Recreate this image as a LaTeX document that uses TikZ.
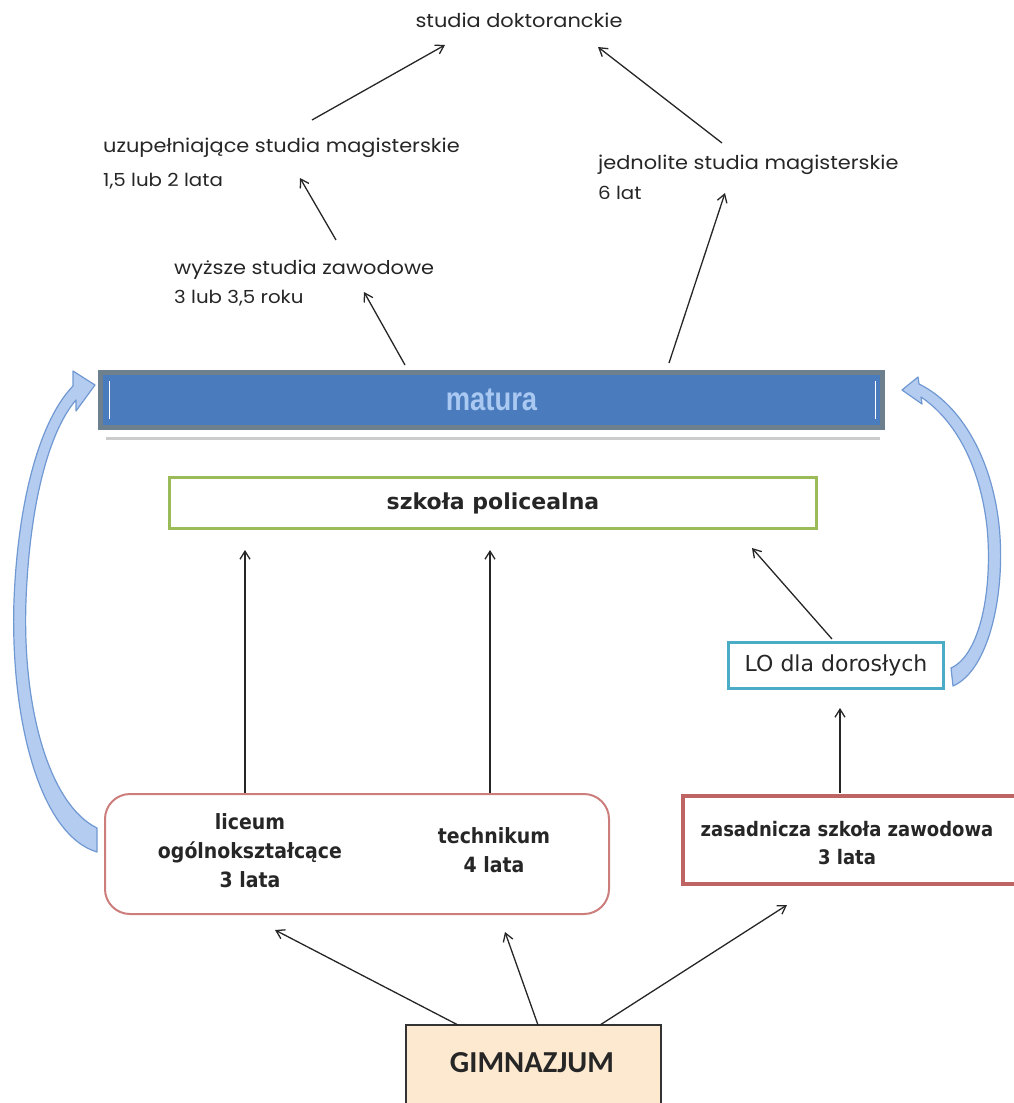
\documentclass[tikz,border=0pt]{standalone}
\usepackage{fontspec}
\setmainfont{DejaVu Sans}
\newfontfamily\comicf[FakeStretch=1.1]{Poppins}
\newfontfamily\tahb[FakeStretch=0.9]{DejaVu Sans}
\newfontfamily\calibf{Carlito}
\newfontfamily\narrowf[FakeStretch=0.83]{Liberation Sans}
\usetikzlibrary{arrows.meta}
\definecolor{txt}{HTML}{262626}
\definecolor{mblue}{HTML}{4A7BBD}
\definecolor{mgray}{HTML}{6E7F8E}
\definecolor{mtext}{HTML}{A9C9F2}
\definecolor{pgreen}{HTML}{9BBB59}
\definecolor{lblue}{HTML}{4BACC6}
\definecolor{rose}{HTML}{CC7E7C}
\definecolor{zred}{HTML}{BE6462}
\definecolor{gfill}{HTML}{FDE9CF}
\definecolor{carrow}{HTML}{B4CCF0}
\definecolor{carrowb}{HTML}{7098D2}
\tikzset{
  toplbl/.style={font=\comicf\fontsize{19}{22}\selectfont, text=txt, inner sep=0, anchor=base west},
  sublbl/.style={font=\comicf\fontsize{18}{22}\selectfont, text=txt, inner sep=0, anchor=base west},
  arr/.style={draw=txt, line width=1.3, -{Straight Barb[length=8,width=10,line width=1.3]}},
  boldtxt/.style={font=\tahb\bfseries\fontsize{21}{29}\selectfont, text=txt, align=center, inner sep=0},
  cbox/.style={inner sep=0, anchor=center},
  carrowst/.style={fill=carrow, draw=carrowb, line width=1.2, line join=round}
}
\begin{document}
\begin{tikzpicture}[x=1pt,y=-1pt]
\useasboundingbox (0,0) rectangle (1014,1103);
\clip (0,0) rectangle (1014,1103);

% top labels
\node[font=\comicf\fontsize{19}{22}\selectfont, text=txt, inner sep=0, anchor=base] (dokt) at (519,27) {studia doktoranckie};
\node[toplbl] (uzup) at (103,152) {uzupełniające studia magisterskie};
\node[sublbl] (uzupb) at (103,186) {1,5 lub 2 lata};
\node[toplbl] (wyz) at (174,274) {wyższe studia zawodowe};
\node[sublbl] (wyzb) at (174,303) {3 lub 3,5 roku};
\node[toplbl] (jedn) at (598,169) {jednolite studia magisterskie};
\node[sublbl] (jednb) at (598,199) {6 lat};

% boxes
\node[cbox, draw=mgray, line width=5, fill=mblue, minimum width=782, minimum height=55,
      font=\narrowf\bfseries\fontsize{33}{36}\selectfont, text=mtext] (matura) at (491.5,400) {matura};
\draw[white, line width=1] ([xshift=11,yshift=-19]matura.west) -- ([xshift=11,yshift=19]matura.west);
\draw[white, line width=1] ([xshift=-10,yshift=-19]matura.east) -- ([xshift=-10,yshift=19]matura.east);
\draw[black!20, line width=3] (106,438) -- (880,438);

\node[cbox, draw=pgreen, line width=3, minimum width=647, minimum height=51,
      font=\bfseries\fontsize{22}{26}\selectfont, text=txt] (polic) at (493,503) {szkoła policealna};
\node[cbox, draw=lblue, line width=3, minimum width=215, minimum height=46,
      font=\fontsize{22}{24}\selectfont, text=txt] (lo) at (836,665.5) {LO dla dorosłych};
\node[cbox, draw=rose, line width=2, rounded corners=25, minimum width=504, minimum height=120] (ltb) at (357,854) {};
\node[boldtxt] (lic) at (250,851) {liceum\\ogólnokształcące\\3 lata};
\node[boldtxt] (tech) at (494,850) {technikum\\4 lata};
\node[cbox, draw=zred, line width=4, minimum width=345, minimum height=88] (zsz) at (855.5,840) {};
\node[font=\tahb\bfseries\fontsize{20}{28}\selectfont, text=txt, align=center, inner sep=0] (zsztxt) at (847,843) {zasadnicza szkoła zawodowa\\3 lata};
\node[cbox, draw=black!80, line width=2, fill=gfill, minimum width=255, minimum height=90] (gim) at (533.5,1070) {};
\node[font=\calibf\bfseries\fontsize{30.5}{32}\selectfont, text=txt, inner sep=0] (gimtxt) at (532,1063) {GIMNAZJUM};

% connector end points
\coordinate (a1s) at (312,120); \coordinate (a1e) at (445,45);
\coordinate (a2s) at (722,143); \coordinate (a2e) at (598,47);
\coordinate (a3s) at (336,240); \coordinate (a3e) at (300,178);
\coordinate (a4s) at (405,365); \coordinate (a4e) at (364,292);
\coordinate (a5s) at (669,363); \coordinate (a5e) at (725,193);
\coordinate (a6s) at (245,793); \coordinate (a6e) at (245,550);
\coordinate (a7s) at (490,793); \coordinate (a7e) at (490,550);
\coordinate (a8s) at (832,639); \coordinate (a8e) at (752,548);
\coordinate (a9s) at (840,793); \coordinate (a9e) at (840,708);
\coordinate (b1s) at (458,1025); \coordinate (b1e) at (275,930);
\coordinate (b2s) at (538,1025); \coordinate (b2e) at (505,932);
\coordinate (b3s) at (600,1025); \coordinate (b3e) at (787,905);

\draw[arr] (a1s) -- (a1e);
\draw[arr] (a2s) -- (a2e);
\draw[arr] (a3s) -- (a3e);
\draw[arr] (a4s) -- (a4e);
\draw[arr] (a5s) -- (a5e);
\draw[arr] (a6s) -- (a6e);
\draw[arr] (a7s) -- (a7e);
\draw[arr] (a8s) -- (a8e);
\draw[arr] (a9s) -- (a9e);
\draw[arr] (b1s) -- (b1e);
\draw[arr] (b2s) -- (b2e);
\draw[arr] (b3s) -- (b3e);

% curved block arrows
\draw[carrowst] (97,852) .. controls (40,835) and (10,720) .. (14,600)
   .. controls (18,500) and (40,420) .. (73,386)
   -- (73,371) -- (95,385) -- (76,411) -- (76,400)
   .. controls (50,430) and (30,500) .. (26,600)
   .. controls (22,710) and (50,805) .. (97,828) -- cycle;
\draw[carrowst] (953,686) .. controls (990,670) and (1006,590) .. (999,525)
   .. controls (992,460) and (962,405) .. (919,384)
   -- (918,377) -- (902,390) -- (922,404) -- (921,397)
   .. controls (955,420) and (980,465) .. (987,527)
   .. controls (993,590) and (980,655) .. (951,668) -- cycle;
\end{tikzpicture}
\end{document}
